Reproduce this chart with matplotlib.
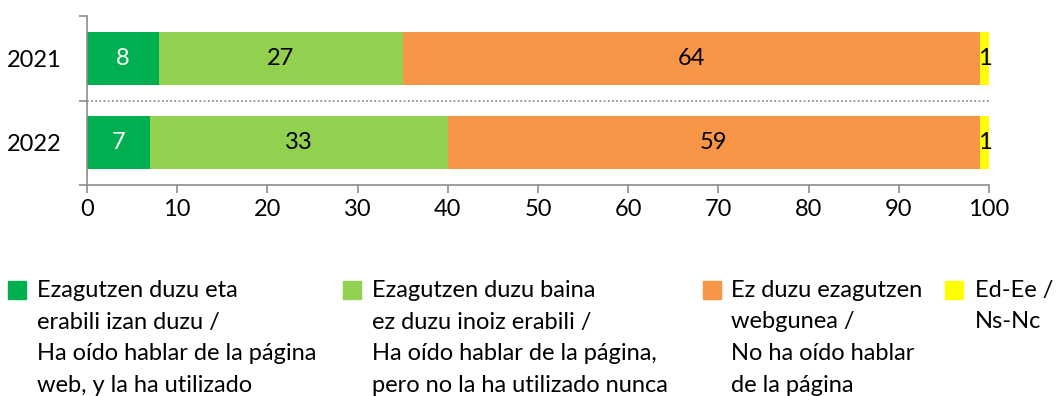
import matplotlib.pyplot as plt
from matplotlib.patches import Rectangle
import numpy as np

plt.rcParams['font.family'] = ['Lato', 'DejaVu Sans']

years = ['2021', '2022']
known_used = [8, 7]
known_not_used = [27, 33]
not_known = [64, 59]
no_answer = [1, 1]

labels = [
    ['Ezagutzen duzu eta', 'erabili izan duzu /', 'Ha oído hablar de la página', 'web, y la ha utilizado'],
    ['Ezagutzen duzu baina', 'ez duzu inoiz erabili /', 'Ha oído hablar de la página,', 'pero no la ha utilizado nunca'],
    ['Ez duzu ezagutzen', 'webgunea /', 'No ha oído hablar', 'de la página'],
    ['Ed-Ee /', 'Ns-Nc'],
]
colors = ['#00B050', '#92D050', '#F79646', '#FFFF00']
text_colors = ['white', 'black', 'black', 'black']

series = [known_used, known_not_used, not_known, no_answer]

W, H = 1056, 396
fs = 17
fig = plt.figure(figsize=(W / 100, H / 100), dpi=100)
ax = fig.add_axes([87 / W, 1 - 185 / H, 902 / W, 169 / H])

y = np.arange(len(years))
left = np.zeros(len(years))
for vals, c, tc in zip(series, colors, text_colors):
    vals = np.array(vals, dtype=float)
    ax.barh(y, vals, left=left, height=0.63, color=c)
    for yi, v, l in zip(y, vals, left):
        ax.text(l + v / 2, yi, f'{v:.0f}', ha='center', va='center',
                color=tc, fontsize=fs)
    left += vals

ax.set_xlim(0, 100)
ax.set_ylim(1.5, -0.5)
ax.set_xticks(np.arange(0, 101, 10))
ax.set_yticks([-0.5, 0.5, 1.5])
ax.set_yticklabels([])
ax.set_yticks(y, minor=True)
ax.set_yticklabels(years, minor=True)
ax.tick_params(axis='y', which='minor', length=0, pad=18, labelsize=fs)
ax.tick_params(axis='y', which='major', length=6, color='#8c8c8c', width=1.2)
ax.tick_params(axis='x', length=6, color='#8c8c8c', width=1.2, labelsize=fs, pad=4)

ax.axhline(0.5, color='#808080', linestyle=(0, (1, 1.5)), linewidth=1.2)

for s in ['top', 'right']:
    ax.spines[s].set_visible(False)
for s in ['left', 'bottom']:
    ax.spines[s].set_color('#8c8c8c')
    ax.spines[s].set_linewidth(1.2)

# legend drawn by hand: square marker beside the first line of each label
marker_x = [8, 343, 703, 945]
text_x = [37, 372, 731, 975]
for mx, tx, c, lines in zip(marker_x, text_x, colors, labels):
    fig.patches.append(Rectangle((mx / W, 1 - 299 / H), 18 / W, 18 / H,
                                 transform=fig.transFigure, color=c))
    for i, line in enumerate(lines):
        fig.text(tx / W, 1 - (297 + 31.5 * i) / H, line, fontsize=fs,
                 ha='left', va='baseline')

fig.savefig('out.png', dpi=100)
